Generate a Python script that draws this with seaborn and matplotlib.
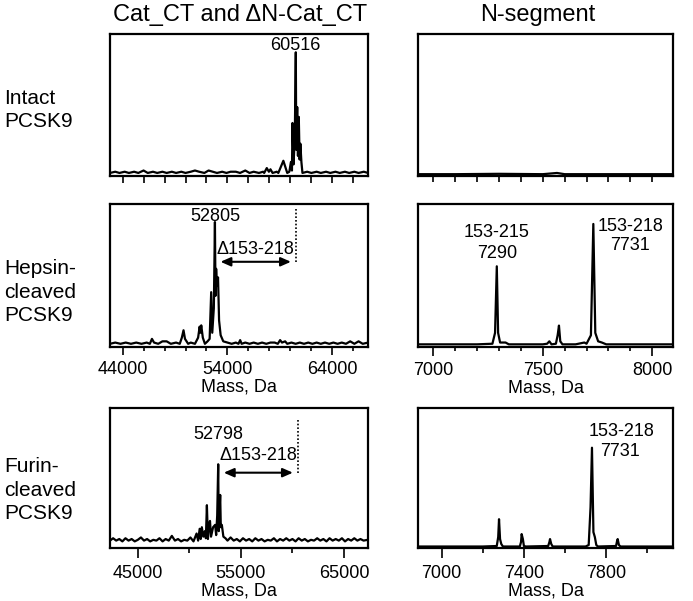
import matplotlib
matplotlib.use("Agg")
import matplotlib.pyplot as plt
from matplotlib.ticker import FixedLocator, MultipleLocator, NullFormatter
import seaborn as sns

# ---------------- data ----------------
col_titles = ["Cat_CT and ΔN-Cat_CT", "N-segment"]
row_labels = ["Intact\nPCSK9", "Hepsin-\ncleaved\nPCSK9", "Furin-\ncleaved\nPCSK9"]

intact_cat_mass = [42800, 43300, 43700, 44200, 44600, 45100, 45500, 46000, 46400, 46900,
                   47300, 47800, 48200, 48700, 49100, 49600, 50000, 50500, 50900, 51300,
                   51800, 52200, 52600, 53000, 53500, 53900, 54300, 54800, 55200, 55700,
                   56100, 56500, 57000, 57400, 57500, 57750, 57950, 58100, 58300, 58700,
                   58850, 59330, 59700, 59900, 60050, 60150, 60200, 60300, 60420, 60516,
                   60560, 60650, 60720, 60800, 60880, 60950, 61050, 61150, 61600, 62000,
                   62500, 62900, 63400, 63800, 64300, 64700, 65200, 65600, 66100, 66500,
                   67000, 67400]
intact_cat_int = [1, 2, 1, 2, 1, 2, 1, 3, 1, 2,
                  1, 2, 1, 2, 1, 2, 1, 2, 3, 2,
                  1, 3, 2, 1, 2, 1, 2, 2, 1, 3,
                  1, 2, 1, 2, 1, 5, 2, 4, 1, 2,
                  1, 11, 1, 2, 10, 3, 42, 8, 30, 100,
                  20, 55, 15, 47, 12, 25, 10, 1, 2, 1,
                  2, 1, 2, 1, 2, 1, 2, 1, 2, 1,
                  2, 1]

intact_n_mass = [6930, 7100, 7300, 7500, 7565, 7600, 7800, 8095]
intact_n_int = [0.5, 0.5, 0.8, 0.5, 1.5, 0.5, 0.5, 0.5]

hepsin_cat_mass = [42800, 43300, 43800, 44300, 44800, 45300, 45800, 46300, 46600, 46800,
                   47000, 47400, 47800, 48200, 48600, 49100, 49450, 49650, 49810, 49950,
                   50250, 50500, 50900, 51200, 51350, 51420, 51500, 51650, 51850, 52100,
                   52300, 52448, 52550, 52700, 52805, 52860, 52920, 53000, 53100, 53200,
                   53350, 53600, 54000, 54400, 54800, 55050, 55210, 55350, 55700, 56100,
                   56500, 56900, 57300, 57700, 58100, 58500, 58800, 59020, 59200, 59500,
                   59700, 60100, 60500, 60900, 61300, 61700, 62100, 62500, 62900, 63300,
                   63700, 64100, 64500, 64900, 65300, 65700, 66100, 66500, 66900, 67400]
hepsin_cat_int = [1, 2, 1, 2, 1, 2, 1, 2, 1, 5,
                  2, 1, 3, 3, 1, 2, 1, 6, 12, 5,
                  1, 2, 1, 6, 15, 10, 16, 6, 1, 3,
                  5, 43, 10, 30, 100, 40, 62, 48, 55, 20,
                  8, 3, 2, 1, 2, 1, 4, 1, 2, 1,
                  2, 1, 2, 1, 2, 2, 1, 4, 2, 3,
                  1, 2, 1, 2, 1, 2, 1, 2, 1, 2,
                  1, 2, 1, 2, 1, 3, 1, 3, 1, 2]

hepsin_n_mass = [6930, 7000, 7100, 7200, 7270, 7282, 7290, 7296, 7305, 7330,
                 7345, 7400, 7500, 7520, 7530, 7540, 7560, 7568, 7574, 7580,
                 7590, 7650, 7690, 7700, 7720, 7731, 7740, 7753, 7770, 7790,
                 7900, 8000, 8095]
hepsin_n_int = [0.5, 0.5, 0.5, 0.5, 1, 10, 65, 10, 2, 2,
                0.5, 0.5, 0.5, 1, 3, 0.5, 1, 8, 16, 3,
                0.5, 0.5, 2, 1, 8, 100, 10, 3, 2, 0.5,
                0.5, 0.5, 0.5]

furin_cat_mass = [42300, 42600, 42900, 43200, 43500, 43800, 44100, 44400, 44700, 45000,
                  45300, 45600, 45900, 46200, 46500, 46800, 47100, 47400, 47700, 48000,
                  48300, 48600, 48900, 49200, 49500, 49800, 50100, 50400, 50700, 50850,
                  51000, 51100, 51210, 51350, 51500, 51600, 51700, 51800, 51900, 52000,
                  52100, 52300, 52500, 52600, 52700, 52798, 52850, 52990, 53050, 53150,
                  53300, 53500, 53700, 54000, 54300, 54600, 54900, 55200, 55500, 55800,
                  56100, 56400, 56700, 57000, 57300, 57600, 57900, 58200, 58500, 58800,
                  59100, 59400, 59700, 60000, 60300, 60600, 60900, 61200, 61500, 61800,
                  62100, 62400, 62700, 63000, 63300, 63600, 63900, 64200, 64500, 64800,
                  65100, 65400, 65700, 66000, 66300, 66600, 66900, 67300]
furin_cat_int = [3, 6, 3, 5, 2, 6, 3, 5, 2, 4,
                 7, 3, 5, 2, 4, 3, 6, 2, 5, 3,
                 9, 3, 5, 2, 4, 3, 7, 2, 12, 3,
                 18, 5, 20, 8, 15, 6, 48, 5, 22, 28,
                 8, 20, 23, 10, 35, 100, 15, 61, 20, 23,
                 8, 6, 3, 7, 3, 5, 2, 6, 3, 5,
                 2, 6, 3, 5, 2, 4, 3, 6, 2, 5,
                 3, 6, 3, 5, 2, 6, 3, 5, 2, 4,
                 3, 6, 3, 5, 2, 6, 3, 5, 3, 6,
                 2, 5, 3, 6, 3, 5, 3, 4]

furin_n_mass = [6885, 7000, 7100, 7200, 7268, 7275, 7279, 7284, 7290, 7298,
                7380, 7386, 7389, 7395, 7400, 7410, 7518, 7524, 7527, 7533,
                7540, 7700, 7715, 7724, 7731, 7738, 7745, 7752, 7760, 7848,
                7853, 7856, 7862, 7870, 8000, 8125]
furin_n_int = [0.5, 0.5, 0.5, 0.5, 1, 10, 28, 8, 3, 0.5,
               0.5, 5, 13, 8, 1, 0.5, 1, 5, 8, 3,
               0.5, 0.5, 2, 40, 100, 15, 10, 2, 0.5, 1,
               6, 8, 2, 0.5, 0.5, 0.5]

intact_peak = 60516
hepsin_peak = 52805
furin_peak = 52798
nseg_short = 7290
nseg_full = 7731

# ---------------- style ----------------
sns.set_theme(style="white")
plt.rcParams["font.family"] = ["Liberation Sans", "DejaVu Sans"]
plt.rcParams["axes.linewidth"] = 1.5
plt.rcParams["axes.edgecolor"] = "black"
plt.rcParams["text.color"] = "black"
plt.rcParams["axes.labelcolor"] = "black"
plt.rcParams["xtick.color"] = "black"
plt.rcParams["xtick.labelcolor"] = "black"

FS = 13
fig = plt.figure(figsize=(6.93, 6.01), dpi=100)
W, H = 693.0, 601.0


def add_ax(x0, x1, y0, y1):
    return fig.add_axes([x0 / W, 1 - y1 / H, (x1 - x0) / W, (y1 - y0) / H])


cols = [(110, 368), (418, 673)]
rows = [(34, 176), (204, 347), (408, 548)]

ax11 = add_ax(*cols[0], *rows[0])
ax12 = add_ax(*cols[1], *rows[0])
ax21 = add_ax(*cols[0], *rows[1])
ax22 = add_ax(*cols[1], *rows[1])
ax31 = add_ax(*cols[0], *rows[2])
ax32 = add_ax(*cols[1], *rows[2])

panels = [
    (ax11, intact_cat_mass, intact_cat_int, (42800, 67400), (-1.5, 115)),
    (ax12, intact_n_mass, intact_n_int, (6930, 8095), (-1.0, 116)),
    (ax21, hepsin_cat_mass, hepsin_cat_int, (42800, 67400), (-1.6, 114.7)),
    (ax22, hepsin_n_mass, hepsin_n_int, (6930, 8095), (-1.7, 116.5)),
    (ax31, furin_cat_mass, furin_cat_int, (42300, 67330), (-6.4, 171.5)),
    (ax32, furin_n_mass, furin_n_int, (6885, 8125), (-1.0, 140)),
]

for ax, m, inten, xl, yl in panels:
    sns.lineplot(x=m, y=inten, ax=ax, color="black", linewidth=1.6,
                 estimator=None, sort=False)
    ax.set_xlim(*xl)
    ax.set_ylim(*yl)
    ax.set_yticks([])
    ax.set_ylabel("")
    for s in ax.spines.values():
        s.set_visible(True)
        s.set_linewidth(1.6)
        s.set_color("black")
    ax.tick_params(axis="x", which="both", direction="out", bottom=True,
                   color="black", labelcolor="black", width=1.2, labelsize=FS, pad=4)

# tick layouts
ax11.xaxis.set_major_locator(MultipleLocator(2000))
ax11.xaxis.set_major_formatter(NullFormatter())
ax11.tick_params(axis="x", which="major", length=5)

ax12.xaxis.set_major_locator(MultipleLocator(100))
ax12.xaxis.set_major_formatter(NullFormatter())
ax12.tick_params(axis="x", which="major", length=4)

ax21.xaxis.set_major_locator(FixedLocator([44000, 54000, 64000]))
ax21.xaxis.set_minor_locator(MultipleLocator(2000))
ax21.tick_params(axis="x", which="major", length=6)
ax21.tick_params(axis="x", which="minor", length=3)

ax22.xaxis.set_major_locator(FixedLocator([7000, 7500, 8000]))
ax22.xaxis.set_minor_locator(MultipleLocator(100))
ax22.tick_params(axis="x", which="major", length=6.5)
ax22.tick_params(axis="x", which="minor", length=3)

ax31.xaxis.set_major_locator(FixedLocator([45000, 55000, 65000]))
ax31.xaxis.set_minor_locator(MultipleLocator(5000))
ax31.tick_params(axis="x", which="major", length=7, pad=5)
ax31.tick_params(axis="x", which="minor", length=3.5)

ax32.xaxis.set_major_locator(FixedLocator([7000, 7400, 7800]))
ax32.xaxis.set_minor_locator(MultipleLocator(200))
ax32.tick_params(axis="x", which="major", length=7, pad=5)
ax32.tick_params(axis="x", which="minor", length=3.5)

for ax in (ax21, ax22, ax31, ax32):
    ax.set_xlabel("Mass, Da", fontsize=FS, labelpad=0.5, color="black")
for ax in (ax11, ax12):
    ax.set_xlabel("")

# ---------------- annotations ----------------
ax11.text(intact_peak, 101.5, str(intact_peak), ha="center", va="baseline", fontsize=FS)

arrow_kw = dict(arrowstyle="<|-|>,head_length=0.5,head_width=0.22",
                color="black", lw=1.5, mutation_scale=12,
                shrinkA=4.0, shrinkB=3.5)

# Hepsin Cat_CT
ax21.text(hepsin_peak, 101, str(hepsin_peak), ha="center", va="baseline", fontsize=FS)
ax21.text((hepsin_peak + intact_peak) / 2, 73.7, "Δ153-218", ha="center",
          va="baseline", fontsize=FS)
ax21.vlines(intact_peak, 67.7, 110.6, colors="black", linestyles=(0, (1, 1.2)), lw=1.2)
ax21.annotate("", xy=(intact_peak, 67.7), xytext=(hepsin_peak, 67.7), arrowprops=arrow_kw)

# Furin Cat_CT
ax31.text(furin_peak, 131.8, str(furin_peak), ha="center", va="baseline", fontsize=FS)
ax31.text((furin_peak + intact_peak) / 2, 105.5, "Δ153-218", ha="center",
          va="baseline", fontsize=FS)
ax31.vlines(intact_peak, 89.3, 156, colors="black", linestyles=(0, (1, 1.2)), lw=1.2)
ax31.annotate("", xy=(intact_peak, 89.3), xytext=(furin_peak, 89.3), arrowprops=arrow_kw)

# Hepsin N-segment
ax22.text(nseg_short, 89.5, "153-215", ha="center", va="baseline", fontsize=FS)
ax22.text(nseg_short, 71.7, str(nseg_short), ha="center", va="baseline", fontsize=FS)
ax22.annotate("153-218", xy=(nseg_full, 94.5), xytext=(26.5, 0), textcoords="offset points",
              ha="center", va="baseline", fontsize=FS)
ax22.annotate(str(nseg_full), xy=(nseg_full, 78.5), xytext=(26.5, 0), textcoords="offset points",
              ha="center", va="baseline", fontsize=FS)

# Furin N-segment
ax32.annotate("153-218", xy=(nseg_full, 111.4), xytext=(21.5, 0), textcoords="offset points",
              ha="center", va="baseline", fontsize=FS)
ax32.annotate(str(nseg_full), xy=(nseg_full, 91.2), xytext=(20.5, 0), textcoords="offset points",
              ha="center", va="baseline", fontsize=FS)

# column titles
fig.text(240 / W, 1 - 15 / H, col_titles[0], ha="center", va="center", fontsize=17)
fig.text(538 / W, 1 - 15 / H, col_titles[1], ha="center", va="center", fontsize=17)

# row labels
row_centers = [110, 292, 490]
for lab, yc in zip(row_labels, row_centers):
    fig.text(4 / W, 1 - yc / H, lab, ha="left", va="center", fontsize=15, linespacing=1.3)

fig.savefig("out.png", dpi=100)
